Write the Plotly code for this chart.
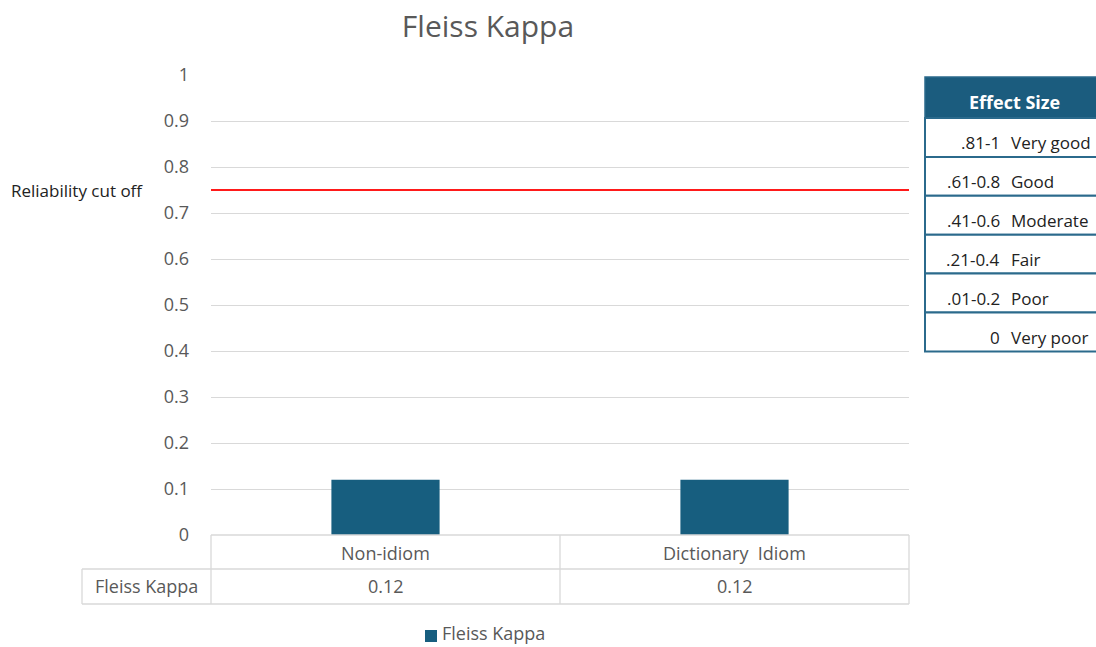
import plotly.graph_objects as go

# Data
categories = ["Non-idiom", "Dictionary  Idiom"]
kappa_values = [0.12, 0.12]
series_name = "Fleiss Kappa"
cutoff_value = 0.75
cutoff_label = "Reliability cut off"
y_ticks = [0, 0.1, 0.2, 0.3, 0.4, 0.5, 0.6, 0.7, 0.8, 0.9, 1]
effect_ranges = [".81-1", ".61-0.8", ".41-0.6", ".21-0.4", ".01-0.2", "0"]
effect_labels = ["Very good", "Good", "Moderate", "Fair", "Poor", "Very poor"]

W, H = 1096, 647
L, R, T, B = 211, 909, 75, 535  # plot area in pixels
FONT = "Open Sans"
BAR_COLOR = "#175e7f"
GRID = "#d9d9d9"
TEXT_GRAY = "#595959"


def px(x):
    return (x - L) / (R - L)


def py(y):
    return (B - y) / (B - T)


fig = go.Figure()
fig.add_trace(go.Bar(
    x=categories, y=kappa_values, name=series_name,
    marker=dict(color=BAR_COLOR, line=dict(width=0)),
    width=0.31, showlegend=False,
))

shapes = []
annotations = []

# Reliability cut-off line
shapes.append(dict(type="line", xref="paper", yref="y", x0=0, x1=1,
                   y0=cutoff_value, y1=cutoff_value,
                   line=dict(color="#ff1a1a", width=2)))
annotations.append(dict(text=cutoff_label, xref="paper", yref="y",
                        x=px(9), y=cutoff_value, xanchor="left", yanchor="middle",
                        showarrow=False, font=dict(family=FONT, size=17, color="#222222")))

# Data table under the axis
tbl_top, tbl_mid, tbl_bot = 535, 569, 604
tbl_left = 82
for (x0, x1, y0, y1) in [
    (L, R, tbl_top, tbl_top), (tbl_left, R, tbl_mid, tbl_mid), (tbl_left, R, tbl_bot, tbl_bot),
    (tbl_left, tbl_left, tbl_mid, tbl_bot), (L, L, tbl_top, tbl_bot),
    ((L + R) / 2, (L + R) / 2, tbl_top, tbl_bot), (R, R, tbl_top, tbl_bot),
]:
    shapes.append(dict(type="line", xref="paper", yref="paper",
                       x0=px(x0), x1=px(x1), y0=py(y0), y1=py(y1),
                       line=dict(color=GRID, width=1.3)))

for cat, val in zip(categories, kappa_values):
    annotations.append(dict(text=cat, xref="x", yref="paper", x=cat, y=py(553),
                            showarrow=False, xanchor="center", yanchor="middle",
                            font=dict(family=FONT, size=18, color=TEXT_GRAY)))
    annotations.append(dict(text=f"{val:.2f}", xref="x", yref="paper", x=cat, y=py(586),
                            showarrow=False, xanchor="center", yanchor="middle",
                            font=dict(family=FONT, size=18, color=TEXT_GRAY)))
annotations.append(dict(text=series_name, xref="paper", yref="paper",
                        x=px(146), y=py(586),
                        showarrow=False, xanchor="center", yanchor="middle",
                        font=dict(family=FONT, size=18, color=TEXT_GRAY)))

# Effect size reference table
ET_L, ET_R = 925, 1100
ET_HEAD_T, ET_HEAD_B = 77, 118
row_h = 38.9
EDGE = "#2b6a8c"
shapes.append(dict(type="rect", xref="paper", yref="paper",
                   x0=px(ET_L), x1=px(ET_R), y0=py(ET_HEAD_T), y1=py(ET_HEAD_B),
                   fillcolor="#1b5c7e", line=dict(color=EDGE, width=1.5)))
annotations.append(dict(text="<b>Effect Size</b>", xref="paper", yref="paper",
                        x=px(1014), y=py(102),
                        showarrow=False, xanchor="center", yanchor="middle",
                        font=dict(family=FONT, size=18, color="white")))
for i, (rng, lab) in enumerate(zip(effect_ranges, effect_labels)):
    y0 = ET_HEAD_B + i * row_h
    y1 = y0 + row_h
    shapes.append(dict(type="rect", xref="paper", yref="paper",
                       x0=px(ET_L), x1=px(ET_R), y0=py(y0), y1=py(y1),
                       fillcolor="white", line=dict(color=EDGE, width=2)))
    annotations.append(dict(text=rng, xref="paper", yref="paper",
                            x=px(1002), y=py(y1 - 14), showarrow=False,
                            xanchor="right", yanchor="middle",
                            font=dict(family=FONT, size=17, color="#222222")))
    annotations.append(dict(text=lab, xref="paper", yref="paper",
                            x=px(1009), y=py(y1 - 14), showarrow=False,
                            xanchor="left", yanchor="middle",
                            font=dict(family=FONT, size=17, color="#222222")))

# Legend entry below the table
shapes.append(dict(type="rect", xref="paper", yref="paper",
                   x0=px(425), x1=px(437), y0=py(642), y1=py(630),
                   fillcolor=BAR_COLOR, line=dict(width=0)))
annotations.append(dict(text=series_name, xref="paper", yref="paper",
                        x=px(441), y=py(646), showarrow=False,
                        xanchor="left", yanchor="bottom", borderpad=0,
                        font=dict(family=FONT, size=18, color=TEXT_GRAY)))

fig.update_layout(
    width=W, height=H,
    margin=dict(l=L, r=W - R, t=T, b=H - B, pad=0, autoexpand=False),
    paper_bgcolor="white", plot_bgcolor="white",
    title=dict(text="Fleiss Kappa", x=488 / W, xanchor="center", y=1 - 26 / H, yanchor="middle",
               font=dict(family=FONT, size=30, color=TEXT_GRAY)),
    font=dict(family=FONT, size=16, color=TEXT_GRAY),
    xaxis=dict(showticklabels=False, showgrid=False, zeroline=False, showline=False,
               ticks=""),
    yaxis=dict(range=[0, 1], tickvals=y_ticks, ticktext=[f"{v:g}" for v in y_ticks],
               showgrid=True, gridcolor=GRID, gridwidth=1.3, zeroline=False,
               showline=False, ticks="", ticklabelstandoff=21,
               tickfont=dict(family=FONT, size=18, color=TEXT_GRAY)),
    showlegend=False,
    shapes=shapes, annotations=annotations,
)

fig.write_html("out.html")
